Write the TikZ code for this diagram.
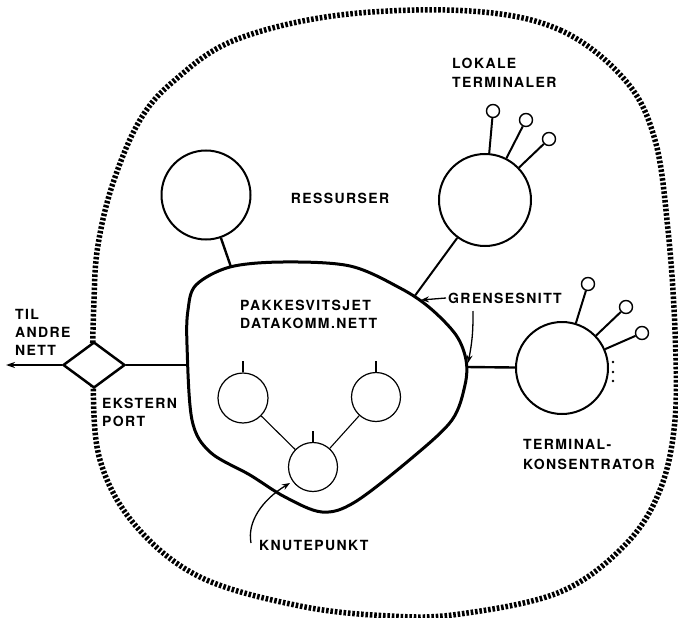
\documentclass[tikz,border=0pt]{standalone}
\usepackage{fontspec}
\setmainfont{TeX Gyre Heros}[LetterSpace=10]
\usetikzlibrary{shapes.geometric,arrows.meta}
\begin{document}
\begin{tikzpicture}[x=1pt,y=-1pt,
  lbl/.style={font=\fontsize{14}{18}\selectfont\bfseries, inner sep=0pt, align=left},
  bigc/.style={circle, draw, line width=2pt, minimum size=92pt, inner sep=0pt},
  smallc/.style={circle, draw, line width=1.2pt, minimum size=49pt, inner sep=0pt},
  term/.style={circle, draw, line width=1.4pt, minimum size=13pt, inner sep=0pt},
  wire/.style={line width=2pt},
  thinwire/.style={line width=1.1pt},
  boundary/.style={line width=5.5pt, dash pattern=on 2.6pt off 1.8pt},
  netline/.style={line width=3pt, line join=round},
  arr/.style={line width=1.3pt, -{Stealth[length=8pt,width=6pt]}}]
\useasboundingbox (0,0) rectangle (678,618);

% outer dotted boundary
\draw[boundary] plot[smooth cycle, tension=0.6] coordinates {
 (470,11) (560,30) (625,80) (655,140) (668,230) (675,330) (675,420) (660,490)
 (625,545) (560,592) (460,614) (390,616) (300,606) (200,577) (135,525) (100,460)
 (93,380) (94,300) (98,245) (113,183) (140,120) (175,80) (235,40) (340,15)};

% packet switched network
\draw[netline] plot[smooth cycle, tension=0.55] coordinates {
 (187,345) (192,420) (210,452) (250,475) (285,497) (322,512) (355,502) (413,457)
 (452,420) (465,385) (466,360) (456,335) (430,308) (400,288) (350,266) (283,262)
 (230,267) (196,285) (188,310)};

\coordinate (bres) at (231,267);
\coordinate (blok) at (414,297);
\coordinate (bkon) at (466,367);
\coordinate (bport) at (187,365);
\coordinate (gtip) at (421,300);
\coordinate (gtip2) at (468,363);
\coordinate (gtail) at (446,298);
\coordinate (gtail2) at (473,311);
\coordinate (ktip) at (290,483);
\coordinate (ktail) at (251,543);
\coordinate (out) at (6,365);

% port
\node[diamond, draw, fill=white, line width=2.5pt, minimum width=62pt, minimum height=46pt, inner sep=0pt] (port) at (94,365) {};
\draw[wire] (port.east) -- (bport);
\draw[line width=1.6pt, -{Stealth[length=9pt,width=6pt]}] (port.west) -- (out);

% resources
\node[bigc, minimum size=89pt] (res) at (206,195) {};
\draw[line width=2.4pt] (res) -- (bres);

% local terminals
\node[bigc] (lok) at (485,200) {};
\draw[wire] (lok) -- (blok);
\node[term] (t1) at (493,111) {};
\node[term] (t2) at (526,120) {};
\node[term] (t3) at (549,139) {};
\draw[wire] (lok) -- (t1);
\draw[wire] (lok) -- (t2);
\draw[wire] (lok) -- (t3);

% terminal concentrator
\node[bigc] (kon) at (562,368) {};
\draw[line width=2.4pt] (kon) -- (bkon);
\node[term] (k1) at (588,284) {};
\node[term] (k2) at (626,307) {};
\node[term] (k3) at (642,333) {};
\draw[wire] (kon) -- (k1);
\draw[wire] (kon) -- (k2);
\draw[wire] (kon) -- (k3);
\fill (613,362) circle[radius=1.3pt] (613,372) circle[radius=1.3pt] (613,381) circle[radius=1.3pt];

% internal nodes
\node[smallc, minimum size=50pt] (n1) at (243,398) {};
\node[smallc] (n2) at (376,397) {};
\node[smallc] (n3) at (313,467) {};
\draw[thinwire] (n1) -- (n3);
\draw[thinwire] (n2) -- (n3);
\coordinate (s1) at (243,361);
\coordinate (s2) at (376,361);
\coordinate (s3) at (313,431);
\draw[thinwire] (n1.north) -- (s1);
\draw[thinwire] (n2.north) -- (s2);
\draw[thinwire] (n3.north) -- (s3);

% arrows
\draw[arr] (gtail) -- (gtip);
\draw[arr] (gtail2) to[bend left=6] (gtip2);
\draw[arr] (ktail) .. controls (247,522) and (262,500) .. (ktip);

% labels
\node[lbl, anchor=west] (ltil) at (15,332) {TIL\\ANDRE\\NETT};
\node[lbl, anchor=west] (lport) at (102,412) {EKSTERN\\PORT};
\node[lbl, anchor=west] (lnet) at (240,314) {PAKKESVITSJET\\DATAKOMM.NETT};
\node[lbl] (lres) at (340,198) {RESSURSER};
\node[lbl, anchor=west, font=\fontsize{14}{19}\selectfont\bfseries] (llok) at (452,72.5) {LOKALE\\TERMINALER};
\node[lbl, anchor=west] (lgr) at (448,298) {GRENSESNITT};
\node[lbl, anchor=west, font=\fontsize{14}{20}\selectfont\bfseries] (lkon) at (523,454) {TERMINAL-\\KONSENTRATOR};
\node[lbl, anchor=west] (lknu) at (259,545) {KNUTEPUNKT};
\end{tikzpicture}
\end{document}
